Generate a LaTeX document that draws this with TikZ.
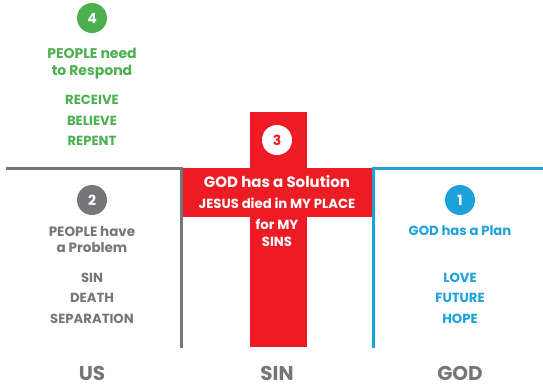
\documentclass[tikz,border=0pt]{standalone}
\usepackage{fontspec}
\setmainfont{Poppins}
\definecolor{greencolor}{RGB}{76,175,80}
\definecolor{greycolor}{RGB}{118,118,122}
\definecolor{redcolor}{RGB}{237,28,36}
\definecolor{bluecolor}{RGB}{29,161,219}

\begin{document}
\begin{tikzpicture}[x=1pt, y=-1pt,
  numcircle/.style={circle, fill=#1, text=white, minimum size=30pt, inner sep=0pt, font=\bfseries\fontsize{14}{14}\selectfont},
  heading/.style={text=#1, align=center, inner sep=0pt, font=\bfseries\fontsize{14}{17}\selectfont},
  wordlist/.style={text=#1, align=center, inner sep=0pt, font=\bfseries\fontsize{13.2}{20.5}\selectfont},
  bottomlabel/.style={text=greycolor, inner sep=0pt, font=\bfseries\fontsize{20}{20}\selectfont},
  bar/.style={line width=3pt, draw=#1}]

\useasboundingbox (0,0) rectangle (543,386);

% Red cross
\fill[redcolor] (250,112) rectangle (307,347);
\fill[redcolor] (183,168) rectangle (372,217);

% Corner lines
\draw[bar=greycolor] (6,168) -- (181,168) -- (181,348);
\draw[bar=bluecolor] (373,348) -- (373,168) -- (543,168);

% Step 4: respond
\node[numcircle=greencolor] (four) at (92,18) {4};
\node[heading=greencolor] (respond) at (92,63.5) {PEOPLE need\\to Respond};
\node[wordlist=greencolor] (receive) at (92,120.5) {RECEIVE\\BELIEVE\\REPENT};

% Step 3: solution
\node[numcircle=white, text=redcolor] (three) at (277,140) {3};
\node[text=white, inner sep=0pt, font=\bfseries\fontsize{15}{15}\selectfont] (solution) at (277,182) {GOD has a Solution};
\node[text=white, inner sep=0pt, font=\bfseries\fontsize{13.2}{13.2}\selectfont] (jesus) at (277,203) {JESUS died in MY PLACE};
\node[wordlist=white, font=\bfseries\fontsize{13.2}{17}\selectfont] (sins) at (277,232.5) {for MY\\SINS};

% Step 2: problem
\node[numcircle=greycolor] (two) at (92,200) {2};
\node[heading=greycolor, font=\bfseries\fontsize{13.5}{16}\selectfont] (problem) at (92,240) {PEOPLE have\\a Problem};
\node[wordlist=greycolor] (sin) at (92,298) {SIN\\DEATH\\SEPARATION};

% Step 1: plan
\node[numcircle=bluecolor] (one) at (460,200) {1};
\node[heading=bluecolor, font=\bfseries\fontsize{13.2}{16}\selectfont] (plan) at (460,231) {GOD has a Plan};
\node[wordlist=bluecolor] (love) at (460,298) {LOVE\\FUTURE\\HOPE};

% Bottom labels
\node[bottomlabel] (us) at (92,373) {US};
\node[bottomlabel] (sinlabel) at (277,373) {SIN};
\node[bottomlabel] (god) at (460,373) {GOD};

\end{tikzpicture}
\end{document}
